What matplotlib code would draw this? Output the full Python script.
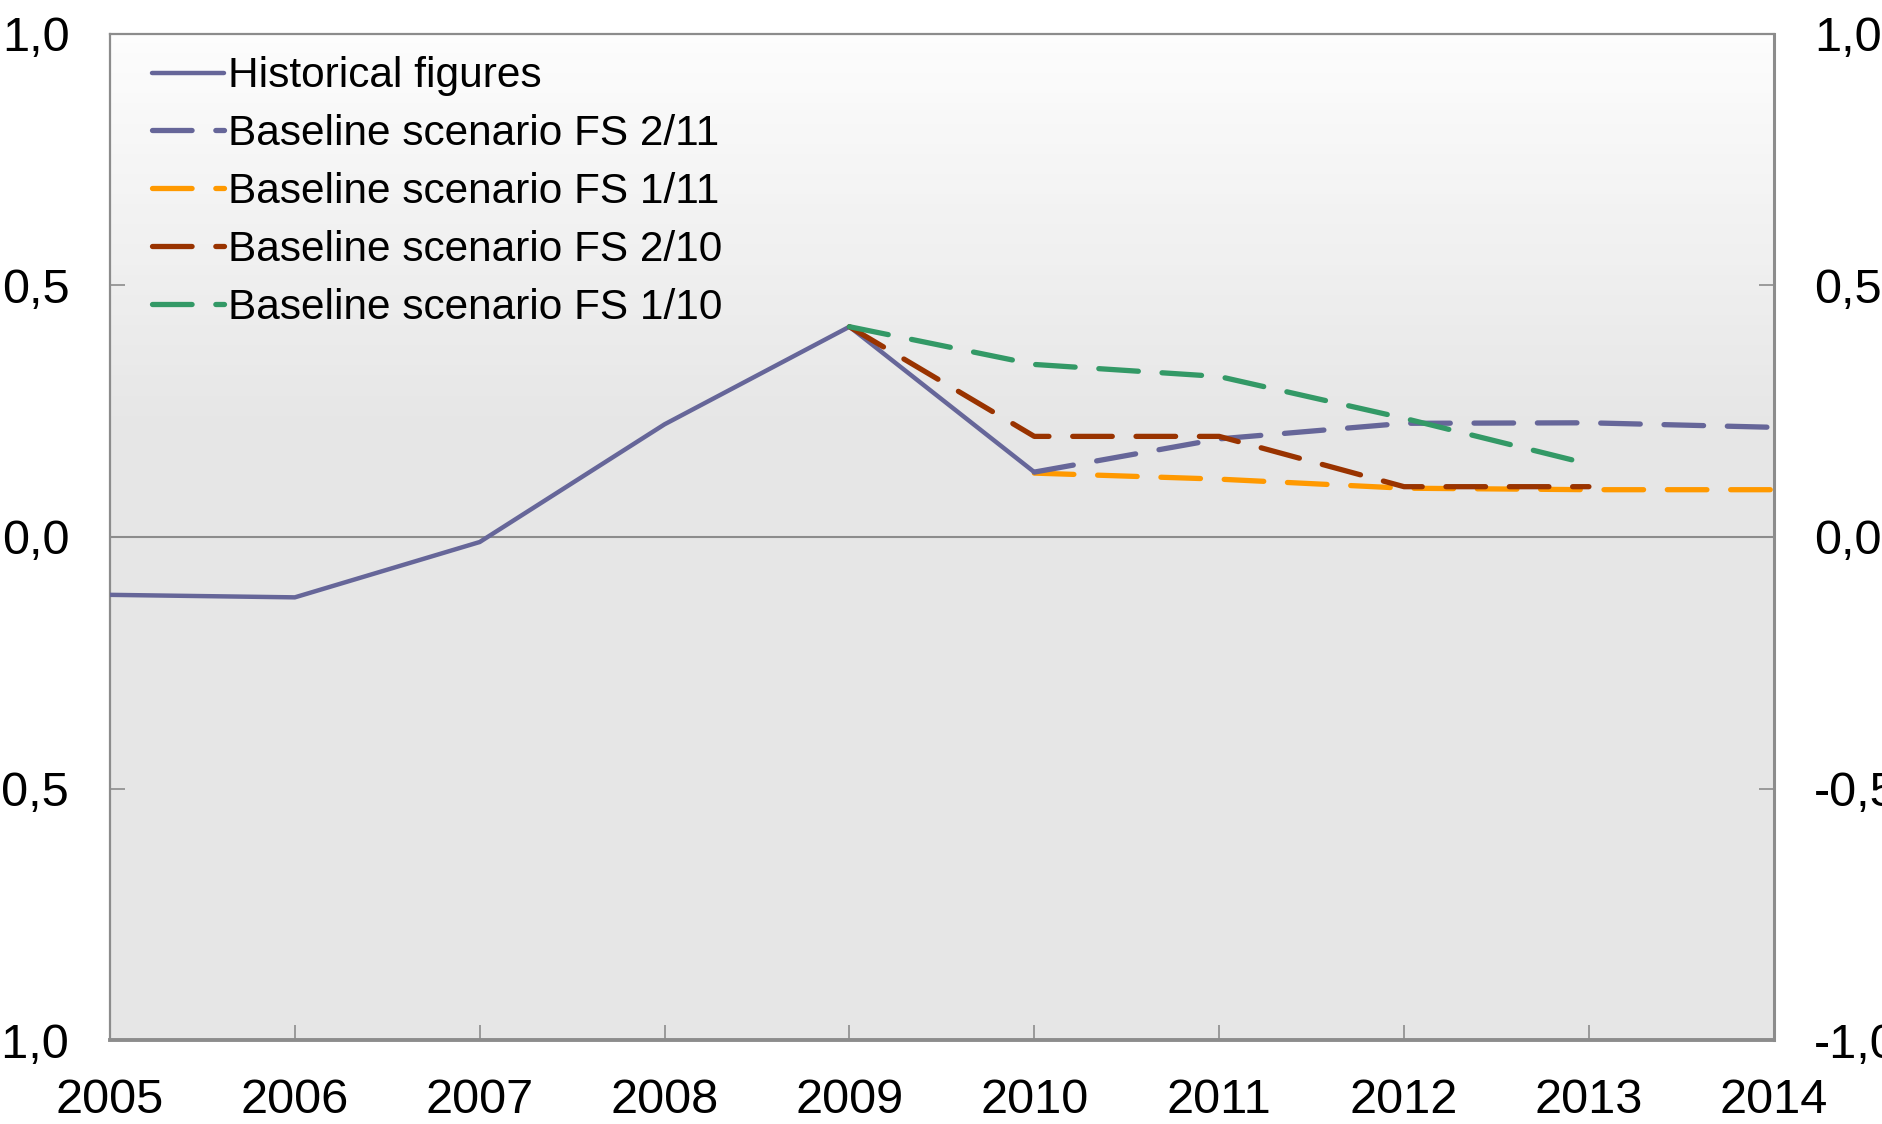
import matplotlib.pyplot as plt
from matplotlib.colors import LinearSegmentedColormap
import numpy as np

plt.rcParams['font.family'] = ['Liberation Sans', 'DejaVu Sans']

# data
years = [2005, 2006, 2007, 2008, 2009, 2010, 2011, 2012, 2013, 2014]
hist_years = [2005, 2006, 2007, 2008, 2009, 2010]
hist = [-0.115, -0.12, -0.01, 0.224, 0.418, 0.129]

fs211_years = [2010, 2011, 2012, 2013, 2014]
fs211 = [0.129, 0.195, 0.226, 0.227, 0.218]

fs111_years = [2010, 2011, 2012, 2013, 2014]
fs111 = [0.127, 0.115, 0.097, 0.094, 0.094]

fs210_years = [2009, 2010, 2011, 2012, 2013]
fs210 = [0.418, 0.2, 0.2, 0.1, 0.1]

fs110_years = [2009, 2010, 2011, 2012, 2013]
fs110 = [0.418, 0.343, 0.319, 0.236, 0.145]

yticks = [-1.0, -0.5, 0.0, 0.5, 1.0]
ytick_labels = ['-1,0', '-0,5', '0,0', '0,5', '1,0']

purple = '#666699'
orange = '#ff9900'
brown = '#993300'
green = '#339966'
frame = '#8c8c8c'

fig = plt.figure(figsize=(18.83, 11.24), dpi=100)
ax = fig.add_axes([0.0584, 0.0747, 0.8836, 0.8951])

# background gradient, white at the top fading to light grey
grad = np.concatenate([np.linspace(0, 1, 40), np.ones(60)]).reshape(-1, 1)
cmap = LinearSegmentedColormap.from_list('bg', ['#fdfdfd', '#e6e6e6'])
ax.imshow(grad, aspect='auto', cmap=cmap, extent=[2005, 2014, 1.0, -1.0],
          origin='lower', zorder=0)
ax.invert_yaxis()

ax.axhline(0, color=frame, lw=1.5, zorder=1)

lw_d = 3.8
dash = (7.5, 4.5)
style = dict(lw=lw_d, dashes=dash, dash_capstyle='round', solid_capstyle='round')
ax.plot(hist_years, hist, color=purple, lw=3.2, solid_capstyle='round',
        label='Historical figures', zorder=3)
ax.plot(fs211_years, fs211, color=purple, label='Baseline scenario FS 2/11', zorder=3, **style)
ax.plot(fs111_years, fs111, color=orange, label='Baseline scenario FS 1/11', zorder=2, **style)
ax.plot(fs210_years, fs210, color=brown, label='Baseline scenario FS 2/10', zorder=3, **style)
ax.plot(fs110_years, fs110, color=green, label='Baseline scenario FS 1/10', zorder=3, **style)

ax.set_xlim(2005, 2014)
ax.set_ylim(-1.0, 1.0)

ax.set_xticks(years)
ax.set_xticklabels([str(y) for y in years])
ax.set_yticks(yticks)
ax.set_yticklabels(ytick_labels)

ax.tick_params(axis='both', direction='in', length=11, width=1.2, color=frame,
               labelsize=35, pad=27)
ax.tick_params(axis='y', right=True, labelright=True, pad=29)

for s in ax.spines.values():
    s.set_color(frame)
    s.set_linewidth(1.6)
ax.spines['bottom'].set_linewidth(2.8)
ax.spines['right'].set_linewidth(2.2)

ax.legend(loc='upper left', fontsize=30.5, frameon=False, handlelength=1.7,
          handletextpad=0.085, labelspacing=0.42, borderaxespad=0.25,
          bbox_to_anchor=(0.009, 1.005))

plt.savefig('out.png', dpi=100)
